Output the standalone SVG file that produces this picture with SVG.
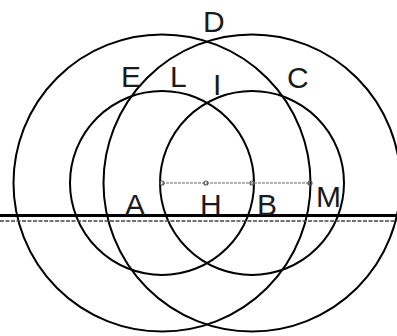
<svg xmlns="http://www.w3.org/2000/svg" width="397" height="336" viewBox="0 0 397 336">
<style>
.c{fill:none;stroke:#000;stroke-width:2}
.t{font-family:"Liberation Sans",Arial,sans-serif;font-size:30px;fill:#1a1a1a}
.pt{fill:none;stroke:#555;stroke-width:1.2}
</style>
<rect width="397" height="336" fill="#fff"/>
<g id="circles">
<circle class="c" cx="162" cy="183" r="148.5"/>
<circle class="c" cx="252" cy="183" r="148.5"/>
<circle class="c" cx="162" cy="183" r="92"/>
<circle class="c" cx="252" cy="183" r="92"/>
</g>
<g id="lines">
<line x1="0" y1="215.5" x2="397" y2="215.5" stroke="#000" stroke-width="3"/>
<line x1="0" y1="221" x2="397" y2="221" stroke="#444" stroke-width="1.5" stroke-dasharray="4,1.5"/>
<line x1="162" y1="183" x2="310" y2="183" stroke="#999" stroke-width="1.6" stroke-dasharray="3,1"/>
</g>
<g id="points">
<circle class="pt" cx="162" cy="183" r="2"/>
<circle class="pt" cx="206" cy="183" r="2"/>
<circle class="pt" cx="252" cy="183" r="2"/>
<circle class="pt" cx="310" cy="183" r="2"/>
</g>
<g id="labels">
<text class="t" x="203" y="32">D</text>
<text class="t" x="121" y="87">E</text>
<text class="t" x="170" y="87">L</text>
<text class="t" x="213" y="95">I</text>
<text class="t" x="287" y="88">C</text>
<text class="t" x="125" y="215">A</text>
<text class="t" x="200" y="215">H</text>
<text class="t" x="257" y="215">B</text>
<text class="t" x="316" y="207">M</text>
</g>
</svg>
